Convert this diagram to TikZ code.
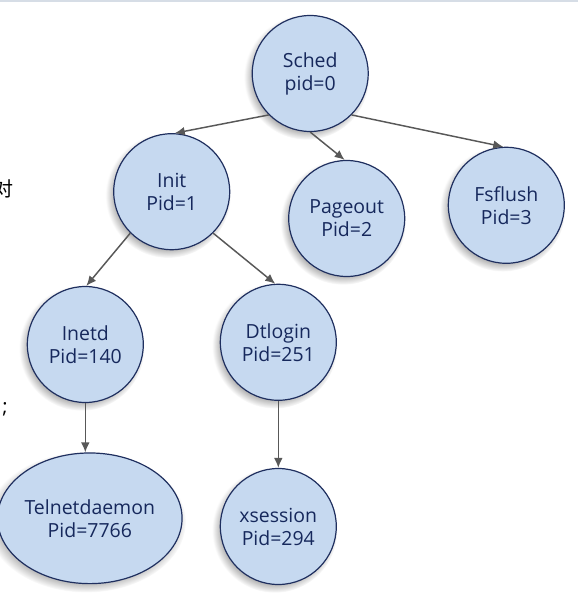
\documentclass[tikz,border=0pt]{standalone}
\usepackage{fontspec}
\setmainfont{Open Sans}
\newfontfamily\cjkfont{Noto Sans CJK SC}
\usetikzlibrary{shadows,shapes.geometric,arrows.meta,fadings}
\definecolor{nodefill}{HTML}{C6D9F0}
\definecolor{nodeline}{HTML}{1F2F5F}
\definecolor{nodetext}{HTML}{16285C}
\definecolor{arrowgray}{HTML}{585858}
\definecolor{topline}{HTML}{D6DDE6}
\begin{document}
\begin{tikzpicture}[x=0.75pt,y=-0.75pt,
  procbase/.style={draw=nodeline, line width=0.9pt, fill=nodefill, inner sep=0pt,
    align=center, text=nodetext, font=\fontsize{14.6}{17.2}\selectfont,
    circular drop shadow={shadow xshift=-2.5pt, shadow yshift=-2.5pt, shadow scale=1.08, opacity=0.6}},
  proc/.style={procbase, circle, minimum size=87pt},
  procwide/.style={procbase, ellipse, minimum width=134pt, minimum height=98pt},
  link/.style={draw=arrowgray, line width=1.1pt, -{Latex[length=7.5pt,width=6.5pt]}},
  side/.style={inner sep=0pt, font=\fontsize{15}{18}\selectfont}
]
\useasboundingbox (0,0) rectangle (578,616);
\fill[topline] (0,0) rectangle (578,2);

\node[side] (sidea) at (3,189) {\cjkfont 对};
\node[side] (sideb) at (5,409) {;};

\node[proc] (sched)    at (310.2,73.5)  {Sched\\pid=0};
\node[proc] (init)     at (171.7,191.7) {Init\\Pid=1};
\node[proc] (pageout)  at (346.7,218.5) {Pageout\\Pid=2};
\node[proc] (fsflush)  at (506.3,205.3) {Fsflush\\Pid=3};
\node[proc] (inetd)    at (85.3,344.5)  {Inetd\\Pid=140};
\node[proc] (dtlogin)  at (278.3,342.3) {Dtlogin\\Pid=251};
\node[procwide] (telnet) at (89.8,518.3) {Telnetdaemon\\Pid=7766};
\node[proc] (xsession) at (278.3,526.5) {xsession\\Pid=294};

\draw[link] (sched.225) -- (init.87);
\draw[link] (sched.270) -- (pageout.92);
\draw[link] (sched.315) -- (fsflush.93);
\draw[link] (init.225) -- (inetd.89);
\draw[link] (init.315) -- (dtlogin.93);
\draw[link] (inetd.south) -- (inetd.south |- telnet.north);
\draw[link] (dtlogin.south) -- (xsession.north);
\end{tikzpicture}
\end{document}
